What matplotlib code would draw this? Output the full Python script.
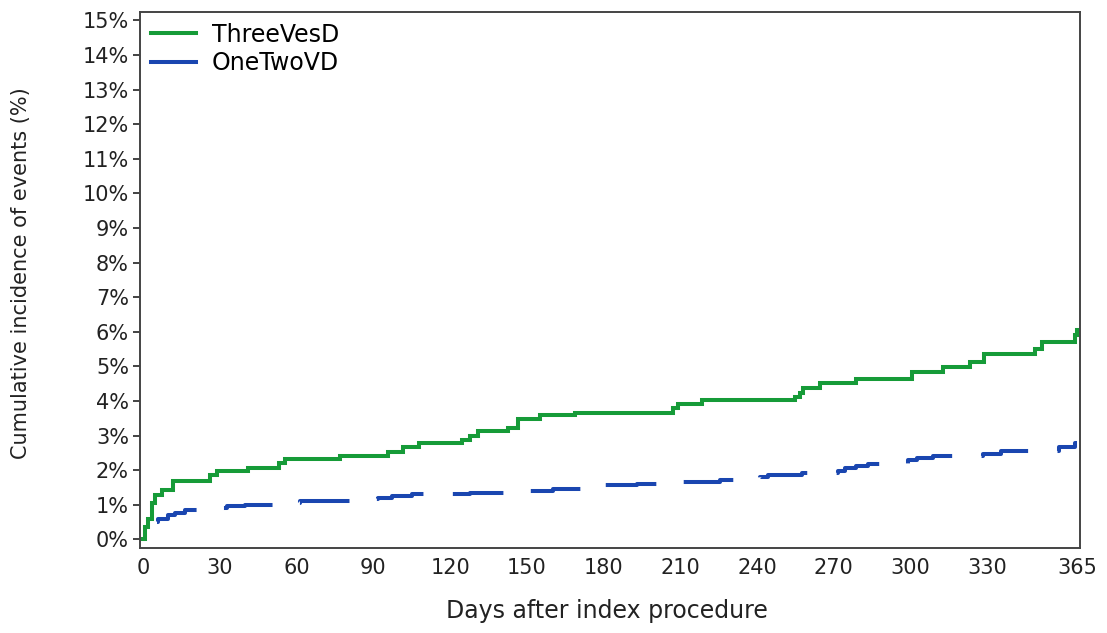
import matplotlib
matplotlib.use("Agg")
import matplotlib.pyplot as plt
from matplotlib.lines import Line2D

plt.rcParams['font.family'] = ['DejaVu Sans']

# ThreeVesD: step times (days) and cumulative incidence (%) after each step
three_days = [0, 0.8, 2.0, 3.5, 4.7, 7.4, 11.7, 26, 29, 41, 53, 55.5, 77, 95.7,
              101.6, 108, 124.7, 127.8, 131, 142.6, 146.5, 155, 168.8, 207, 209,
              218.4, 254.8, 256.7, 258, 264.6, 278.5, 300.5, 312.6, 323.3, 328.8,
              348.8, 351.3, 364.2, 365]
three_vals = [0.0, 0.35, 0.6, 1.04, 1.27, 1.42, 1.70, 1.85, 1.97, 2.05, 2.2, 2.31,
              2.41, 2.52, 2.67, 2.78, 2.86, 3.0, 3.12, 3.23, 3.47, 3.58, 3.66, 3.8,
              3.92, 4.02, 4.11, 4.24, 4.37, 4.53, 4.62, 4.84, 4.98, 5.12, 5.35,
              5.51, 5.7, 5.9, 6.05]

# OneTwoVD
one_days = [0, 0.8, 2.5, 4.7, 5.9, 9.8, 12.5, 16.4, 22, 32.8, 39.9, 59.4, 61.4,
            89.5, 91.8, 97.3, 105.1, 127.8, 150.8, 160.2, 175, 193, 211, 225.5,
            241.1, 244.2, 257.5, 271.6, 274.3, 278.5, 283.2, 299, 302.5, 308.6,
            328.3, 335.3, 358, 364.2, 365]
one_vals = [0.0, 0.3, 0.4, 0.5, 0.6, 0.69, 0.76, 0.84, 0.92, 0.96, 1.0, 1.05, 1.1,
            1.16, 1.2, 1.25, 1.3, 1.35, 1.4, 1.45, 1.56, 1.61, 1.66, 1.71, 1.8,
            1.86, 1.92, 1.98, 2.07, 2.12, 2.19, 2.28, 2.35, 2.41, 2.48, 2.55,
            2.67, 2.77, 2.77]

xticks = [0, 30, 60, 90, 120, 150, 180, 210, 240, 270, 300, 330, 365]
yticks = list(range(0, 16))

green = '#169b38'
blue = '#1a46b0'

fig = plt.figure(figsize=(11.07, 6.33), dpi=100)
ax = fig.add_axes([0.1265, 0.1343, 0.9756 - 0.1265, 0.981 - 0.1343])

lw = 2.9
ax.step(one_days, one_vals, where='post', color=blue, lw=lw,
        linestyle=(12.4, (12.8, 7.3)), zorder=2)
ax.step(three_days, three_vals, where='post', color=green, lw=lw,
        solid_joinstyle='miter', zorder=3)

ax.set_xlim(-1.2, 366.2)
ax.set_ylim(-0.25, 15.24)
ax.set_xticks(xticks)
ax.set_xticklabels([str(v) for v in xticks])
ax.set_yticks(yticks)
ax.set_yticklabels([f"{v}%" for v in yticks])

ax.tick_params(axis='x', length=0, pad=7, labelsize=15, colors='#222222')
ax.tick_params(axis='y', length=5, width=1.2, pad=3, labelsize=15,
               colors='#222222', direction='out')
for sp in ax.spines.values():
    sp.set_color('#444444')
    sp.set_linewidth(1.4)

ax.set_xlabel('Days after index procedure', fontsize=17, color='#222222')
ax.xaxis.set_label_coords(0.497, -0.095)
ax.set_ylabel('Cumulative incidence of events (%)', fontsize=15,
              color='#222222')
ax.yaxis.set_label_coords(-0.1157, 0.512)

handles = [Line2D([0], [0], color=green, lw=lw),
           Line2D([0], [0], color=blue, lw=lw)]
ax.legend(handles, ['ThreeVesD', 'OneTwoVD'], loc='upper left', frameon=False,
          fontsize=17, handlelength=1.9, handletextpad=0.7, labelspacing=0.2,
          borderaxespad=0.0, borderpad=0.45)

fig.savefig('out.png', dpi=100)
